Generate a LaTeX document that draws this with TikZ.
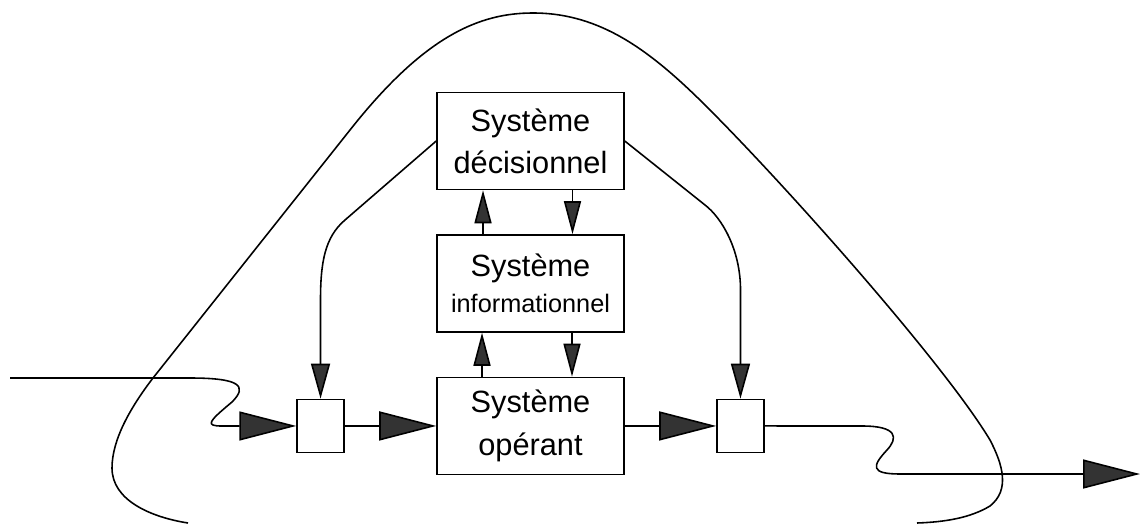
\documentclass[tikz,border=0pt]{standalone}
\usepackage{fontspec}
\setmainfont{Liberation Sans}
\usetikzlibrary{arrows.meta,positioning}

\begin{document}
\begin{tikzpicture}[x=0.02cm, y=-0.02cm, node distance=2.85cm, line width=0.9pt,
		>={Triangle[length=1.14cm, width=0.58cm, fill=black!80]}]
	\tikzstyle{sysbox} = [draw, minimum width=3.74cm, minimum height=1.94cm, inner sep=0pt, align=center, font=\fontsize{17.5}{24}\selectfont]
	\tikzstyle{gate} = [draw, minimum width=0.94cm, minimum height=1.06cm, inner sep=0pt]
	\tikzstyle{vtip} = [-{Triangle[length=0.7cm, width=0.38cm, fill=black!80]}]
	\tikzstyle{stip} = [-{Triangle[length=0.66cm, width=0.34cm, fill=black!80]}]
	\useasboundingbox (0,0) rectangle (1141,524);

	\node[sysbox] (dec) at (530.5,141) {Système\\décisionnel};
	\node[sysbox, below of=dec] (inf) {Système\\[-3.6pt]{\fontsize{14.4}{20}\selectfont informationnel}};
	\node[sysbox, below of=inf] (op) {Système\\opérant};
	\node[gate, node distance=4.2cm, left of=op] (lb) {};
	\node[gate, node distance=4.2cm, right of=op] (rb) {};
	\coordinate (in) at (10,378);
	\coordinate (out) at (1140,474);

	% boucle
	\draw (188,523) .. controls (150,517) and (112,500) .. (112,468)
		.. controls (112,440) and (130,408) .. (153,378) -- (350,130)
		.. controls (425,35) and (480,13) .. (533,13)
		.. controls (600,13) and (650,50) .. (707,107)
		.. controls (790,190) and (945,365) .. (990,440)
		.. controls (1003,465) and (1010,490) .. (990,506)
		.. controls (970,518) and (945,522) .. (917,523);

	% flux
	\draw[->] (in) -- (190,378) .. controls (240,378) and (248,386) .. (232,402) .. controls (208,422) and (205,426) .. (222,426) -- (lb.west);
	\draw[->] (lb) -- (op);
	\draw[->] (op) -- (rb);
	\draw[->] (rb.east) -- (862,426) .. controls (898,426) and (898,438) .. (887,450) .. controls (872,466) and (870,474) .. (900,474) -- (out);

	% commandes
	\draw[vtip] (dec.west) -- (345,220) .. controls (325,237) and (320.5,262) .. (320.5,300) -- (lb.north);
	\draw[vtip] (dec.east) -- (705,205) .. controls (722,218) and (740.5,250) .. (740.5,290) -- (rb.north);

	\draw[stip] ([xshift=-0.95cm]inf.north) -- ([xshift=-0.95cm]dec.south);
	\draw[stip] ([xshift=0.84cm]dec.south) -- ([xshift=0.84cm]inf.north);
	\draw[stip] ([xshift=-0.97cm]op.north) -- ([xshift=-0.97cm]inf.south);
	\draw[stip] ([xshift=0.83cm]inf.south) -- ([xshift=0.83cm]op.north);
\end{tikzpicture}
\end{document}
